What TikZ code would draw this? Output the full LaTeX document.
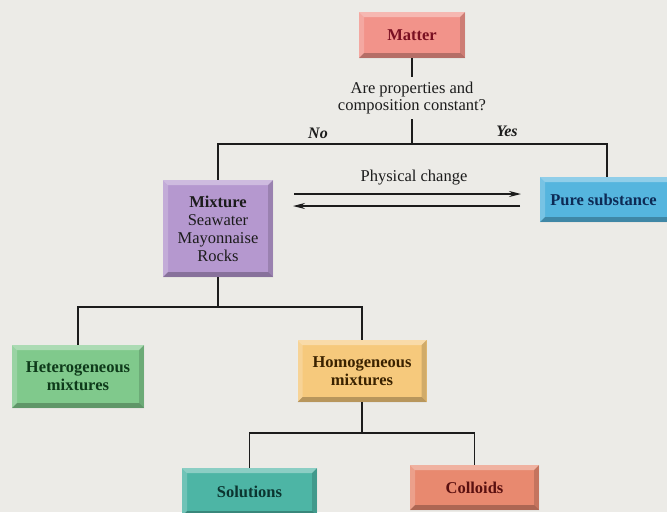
\documentclass[tikz,border=0pt]{standalone}
\usepackage{fontspec}
\setmainfont{Liberation Serif}
\usetikzlibrary{arrows.meta}
\definecolor{paper}{HTML}{ECEBE7}
\definecolor{ink}{HTML}{1C1C1C}
\definecolor{cMatter}{HTML}{F2938A}
\definecolor{tMatter}{HTML}{7A1022}
\definecolor{cMix}{HTML}{B598CF}
\definecolor{cPure}{HTML}{55B5DE}
\definecolor{tPure}{HTML}{0D2A55}
\definecolor{cHet}{HTML}{80C98C}
\definecolor{tHet}{HTML}{0E3A1A}
\definecolor{cHom}{HTML}{F6C97C}
\definecolor{tHom}{HTML}{3A2200}
\definecolor{cSol}{HTML}{4DB5A5}
\definecolor{tSol}{HTML}{0B3530}
\definecolor{cCol}{HTML}{E8896F}
\definecolor{tCol}{HTML}{5A1010}
\tikzset{
  bevelbox/.style={fill=#1, inner sep=0pt, align=center,
    font=\fontsize{16.5}{18}\selectfont,
    path picture={
      \fill[white,opacity=0.35] (path picture bounding box.north west) -- (path picture bounding box.north east)
        -- ([xshift=-5pt,yshift=-5pt]path picture bounding box.north east) -- ([xshift=5pt,yshift=-5pt]path picture bounding box.north west) -- cycle;
      \fill[white,opacity=0.2] (path picture bounding box.north west) -- (path picture bounding box.south west)
        -- ([xshift=5pt,yshift=5pt]path picture bounding box.south west) -- ([xshift=5pt,yshift=-5pt]path picture bounding box.north west) -- cycle;
      \fill[black,opacity=0.25] (path picture bounding box.south west) -- (path picture bounding box.south east)
        -- ([xshift=-5pt,yshift=5pt]path picture bounding box.south east) -- ([xshift=5pt,yshift=5pt]path picture bounding box.south west) -- cycle;
      \fill[black,opacity=0.15] (path picture bounding box.north east) -- (path picture bounding box.south east)
        -- ([xshift=-5pt,yshift=5pt]path picture bounding box.south east) -- ([xshift=-5pt,yshift=-5pt]path picture bounding box.north east) -- cycle;
    }},
  boldbox/.style={bevelbox=#1, font=\fontsize{16.5}{18}\selectfont\bfseries},
  conn/.style={draw=ink, line width=1.5pt},
  arr/.style={draw=ink, line width=1.3pt, -{Stealth[length=12pt,width=6pt]}},
  plain/.style={font=\fontsize{16.5}{17}\selectfont, align=center, inner sep=0pt, text=ink},
  yesno/.style={font=\fontsize{16}{17}\selectfont\bfseries\itshape, inner sep=0pt, text=ink}
}
\begin{document}
\begin{tikzpicture}[x=1pt,y=-1pt]
\useasboundingbox (0,0) rectangle (667,512);
\clip (0,0) rectangle (667,512);
\fill[paper] (0,0) rectangle (667,512);

\node[boldbox=cMatter, minimum width=106pt, minimum height=46pt, text=tMatter] (matter) at (412,35) {Matter};
\node[plain, minimum height=42pt] (q) at (412,98) {Are properties and\\composition constant?};
\coordinate (j1) at (412,144);
\node[bevelbox=cMix, minimum width=110pt, minimum height=97pt, text=ink] (mix) at (218,228.5) {\textbf{Mixture}\\Seawater\\Mayonnaise\\Rocks};
\node[boldbox=cPure, minimum width=134pt, minimum height=45pt, text=tPure] (pure) at (607,199.5) {\hspace*{-7pt}Pure substance};
\node[yesno] (no) at (318,133) {No};
\node[yesno] (yes) at (507,131) {Yes};

\draw[conn] (matter.south) -- (q.north);
\draw[conn] (q.south) -- (j1);
\draw[conn] (j1) -| (mix.north);
\draw[conn] (j1) -| (pure.north);

\coordinate (pa1) at (294,194);
\coordinate (pa2) at (521,194);
\coordinate (pb1) at (520,206);
\coordinate (pb2) at (293,206);
\draw[arr] (pa1) -- (pa2);
\draw[arr] (pb1) -- (pb2);
\node[plain] (phys) at (414,178) {Physical change};

\node[boldbox=cHet, minimum width=132pt, minimum height=63pt, text=tHet] (het) at (78,376.5) {Heterogeneous\\mixtures};
\node[boldbox=cHom, minimum width=129pt, minimum height=62pt, text=tHom] (hom) at (362,371) {Homogeneous\\mixtures};
\coordinate (j2) at (218,307);
\draw[conn] (mix.south) -- (j2);
\draw[conn] (j2) -| (het.north);
\draw[conn] (j2) -| (hom.north);

\node[boldbox=cSol, minimum width=135pt, minimum height=48pt, text=tSol] (sol) at (249.5,492) {Solutions};
\node[boldbox=cCol, minimum width=129pt, minimum height=45pt, text=tCol] (col) at (474.5,487.5) {Colloids};
\coordinate (j3) at (362,433);
\draw[conn] (hom.south) -- (j3);
\draw[conn] (j3) -| (sol.north);
\draw[conn] (j3) -| (col.north);
\end{tikzpicture}
\end{document}
